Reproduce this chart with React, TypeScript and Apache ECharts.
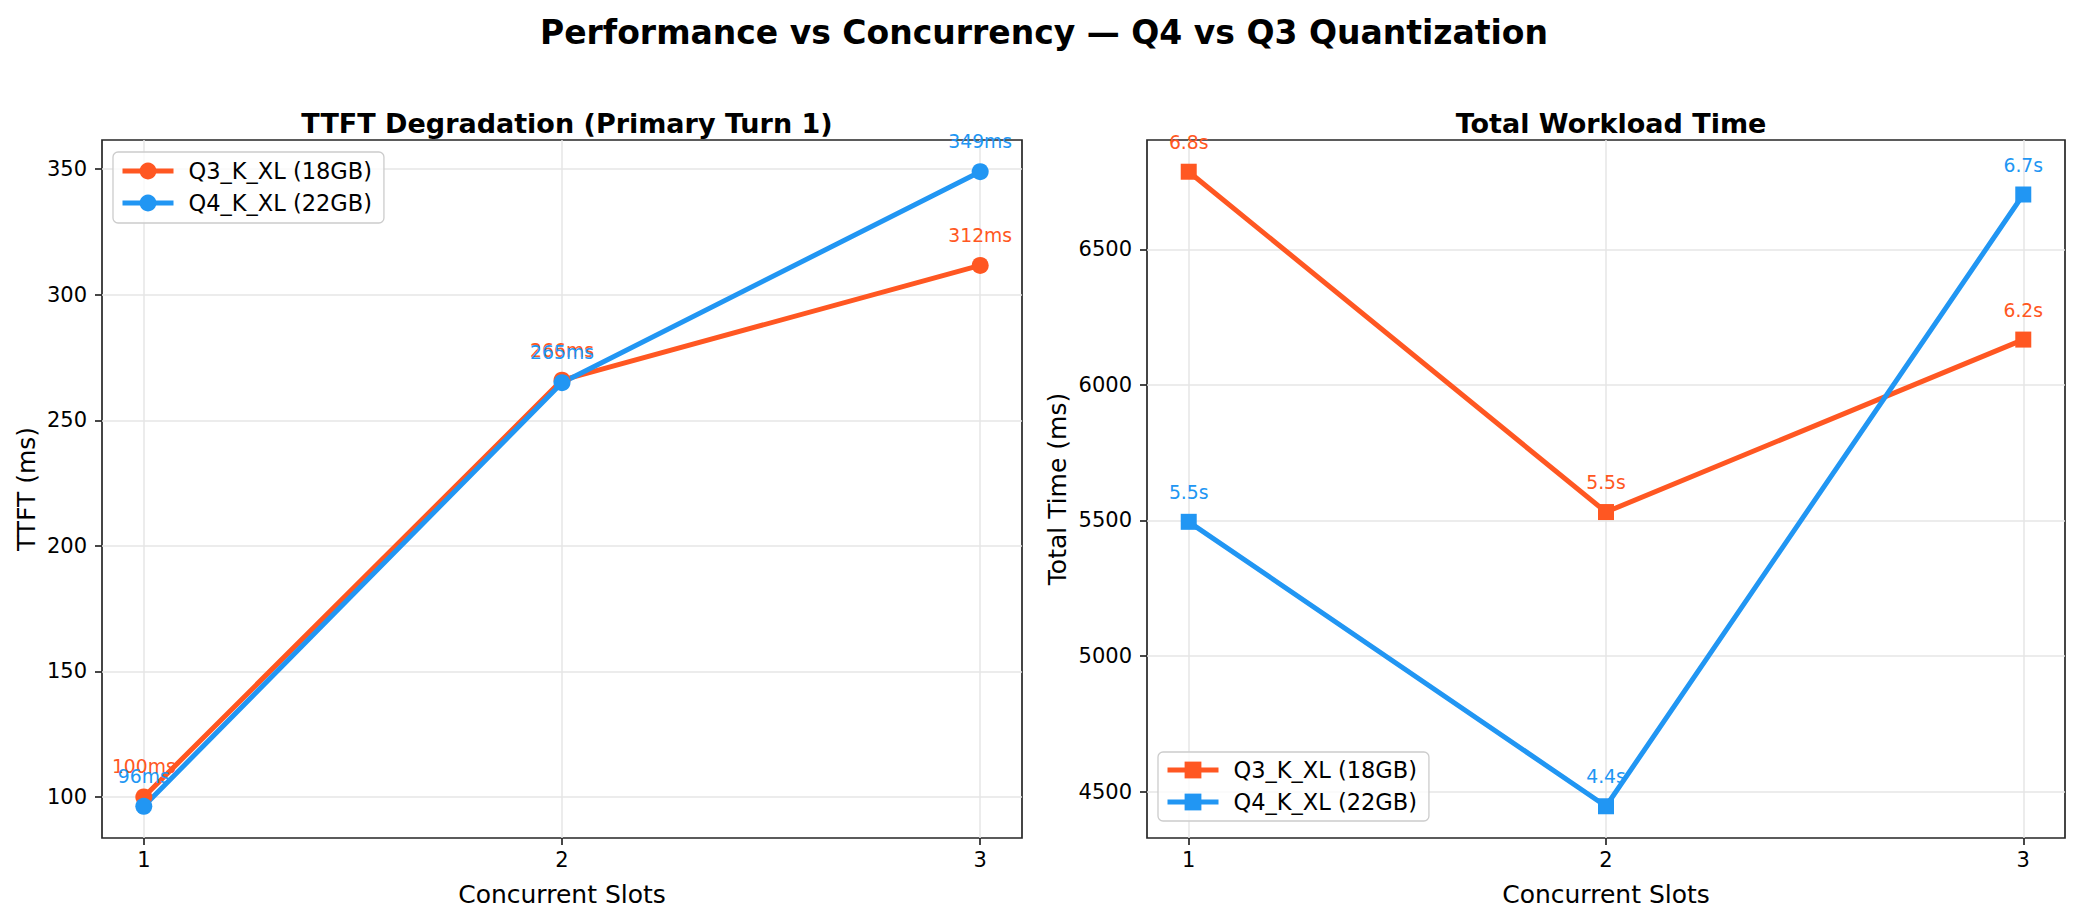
import React, { useEffect, useRef } from "react";
import * as echarts from "echarts";

// Concurrency levels on the x axis
const slots = [1, 2, 3];

// Time to first token for the primary turn (ms)
const ttftQ3 = [100, 266, 311.7];
const ttftQ4 = [96.3, 265, 349];

// Total workload time (ms)
const totalQ3 = [6786, 5531, 6167];
const totalQ4 = [5495, 4446, 6702];

const seriesNames = ["Q3_K_XL (18GB)", "Q4_K_XL (22GB)"];
const xTicks = [1, 2, 3];
const ttftTicks = [100, 150, 200, 250, 300, 350];
const totalTicks = [4500, 5000, 5500, 6000, 6500];

const ORANGE = "#FF5722";
const BLUE = "#2196F3";
const FONT = "DejaVu Sans";
const SPINE = "#262626";

// Series on the second panel get a suffix so each legend picks its own marker shape
const TOTAL_SUFFIX = "#total";

// Pad the data range by 5% on each side
function padded(values: number[]) {
  const lo = Math.min(...values);
  const hi = Math.max(...values);
  const m = (hi - lo) * 0.05;
  return { min: lo - m, max: hi + m };
}

export default function App() {
  const ref = useRef<HTMLDivElement>(null);

  useEffect(() => {
    if (!ref.current) return;
    const chart = echarts.init(ref.current, null, { renderer: "svg" });

    const xr = padded(slots);
    const yl = padded([...ttftQ3, ...ttftQ4]);
    const yr = padded([...totalQ3, ...totalQ4]);

    const gridCommon = {
      show: true,
      borderColor: SPINE,
      borderWidth: 1.7,
      backgroundColor: "#ffffff",
    };

    const xAxisBase = (gridIndex: number) => ({
      type: "value" as const,
      gridIndex,
      min: xr.min,
      max: xr.max,
      name: "Concurrent Slots",
      nameLocation: "middle" as const,
      nameGap: 44,
      nameTextStyle: { fontFamily: FONT, fontSize: 25, color: "#000" },
      axisLine: { show: false },
      axisTick: {
        show: true,
        length: 7,
        customValues: xTicks,
        lineStyle: { color: SPINE, width: 1.7 },
      },
      axisLabel: {
        customValues: xTicks,
        margin: 11,
        fontFamily: FONT,
        fontSize: 21,
        color: "#000",
        formatter: (v: number) => String(v),
      },
      splitLine: { show: true, lineStyle: { color: "#e6e6e6", width: 1.5 } },
    });

    const yAxisBase = (
      gridIndex: number,
      name: string,
      range: { min: number; max: number },
      ticks: number[],
      gap: number
    ) => ({
      type: "value" as const,
      gridIndex,
      min: range.min,
      max: range.max,
      name,
      nameLocation: "middle" as const,
      nameGap: gap,
      nameTextStyle: { fontFamily: FONT, fontSize: 25, color: "#000" },
      axisLine: { show: false },
      axisTick: {
        show: true,
        length: 7,
        customValues: ticks,
        lineStyle: { color: SPINE, width: 1.7 },
      },
      axisLabel: {
        customValues: ticks,
        margin: 15,
        fontFamily: FONT,
        fontSize: 21,
        color: "#000",
        formatter: (v: number) => String(v),
      },
      splitLine: { show: true, lineStyle: { color: "#e6e6e6", width: 1.5 } },
    });

    const lineSeries = (
      name: string,
      color: string,
      values: number[],
      axis: number,
      symbol: string,
      fmt: (v: number) => string
    ) => ({
      type: "line" as const,
      name,
      xAxisIndex: axis,
      yAxisIndex: axis,
      data: slots.map((x, i) => [x, values[i]]),
      symbol,
      symbolSize: symbol === "rect" ? 16 : 17,
      color,
      itemStyle: { color },
      lineStyle: { color, width: 5 },
      label: {
        show: true,
        position: "top" as const,
        distance: 12,
        color,
        fontFamily: FONT,
        fontSize: 18.75,
        formatter: (p: any) => fmt(p.value[1]),
      },
    });

    const legendCommon = {
      orient: "vertical" as const,
      itemWidth: 51,
      itemHeight: 21,
      itemGap: 8,
      backgroundColor: "rgba(255,255,255,0.8)",
      borderColor: "#cccccc",
      borderWidth: 1.3,
      borderRadius: 5,
      lineStyle: { width: 5 },
      formatter: (name: string) => name.replace(TOTAL_SUFFIX, ""),
      textStyle: {
        fontFamily: FONT,
        fontSize: 22.5,
        color: "#000",
        lineHeight: 24,
        padding: [0, 0, 0, 10],
      },
    };

    const ms = (v: number) => `${Math.round(v)}ms`;
    const sec = (v: number) => `${(v / 1000).toFixed(1)}s`;
    const totalNames = seriesNames.map((n) => n + TOTAL_SUFFIX);

    chart.setOption({
      animation: false,
      backgroundColor: "#ffffff",
      textStyle: { fontFamily: FONT },
      title: [
        {
          text: "Performance vs Concurrency — Q4 vs Q3 Quantization",
          left: 1039,
          top: 11,
          textAlign: "center",
          textStyle: { fontFamily: FONT, fontSize: 33, fontWeight: "bold", color: "#000" },
        },
        {
          text: "TTFT Degradation (Primary Turn 1)",
          left: 562,
          top: 105,
          textAlign: "center",
          textStyle: { fontFamily: FONT, fontSize: 27, fontWeight: "bold", color: "#000" },
        },
        {
          text: "Total Workload Time",
          left: 1606,
          top: 105,
          textAlign: "center",
          textStyle: { fontFamily: FONT, fontSize: 27, fontWeight: "bold", color: "#000" },
        },
      ],
      grid: [
        { ...gridCommon, left: 102, top: 140, width: 920, height: 698 },
        { ...gridCommon, left: 1147, top: 140, width: 918, height: 698 },
      ],
      xAxis: [xAxisBase(0), xAxisBase(1)],
      yAxis: [
        yAxisBase(0, "TTFT (ms)", yl, ttftTicks, 63),
        yAxisBase(1, "Total Time (ms)", yr, totalTicks, 77),
      ],
      legend: [
        { ...legendCommon, data: seriesNames, left: 113, top: 152, padding: [7, 12, 8, 7] },
        { ...legendCommon, data: totalNames, left: 1158, top: 752, padding: [6, 12, 7, 7] },
      ],
      series: [
        lineSeries(seriesNames[0], ORANGE, ttftQ3, 0, "circle", ms),
        lineSeries(seriesNames[1], BLUE, ttftQ4, 0, "circle", ms),
        lineSeries(totalNames[0], ORANGE, totalQ3, 1, "rect", sec),
        lineSeries(totalNames[1], BLUE, totalQ4, 1, "rect", sec),
      ],
    });

    return () => chart.dispose();
  }, []);

  return (
    <div
      ref={ref}
      style={{ position: "fixed", left: 0, top: 0, width: 2082, height: 921 }}
    />
  );
}
